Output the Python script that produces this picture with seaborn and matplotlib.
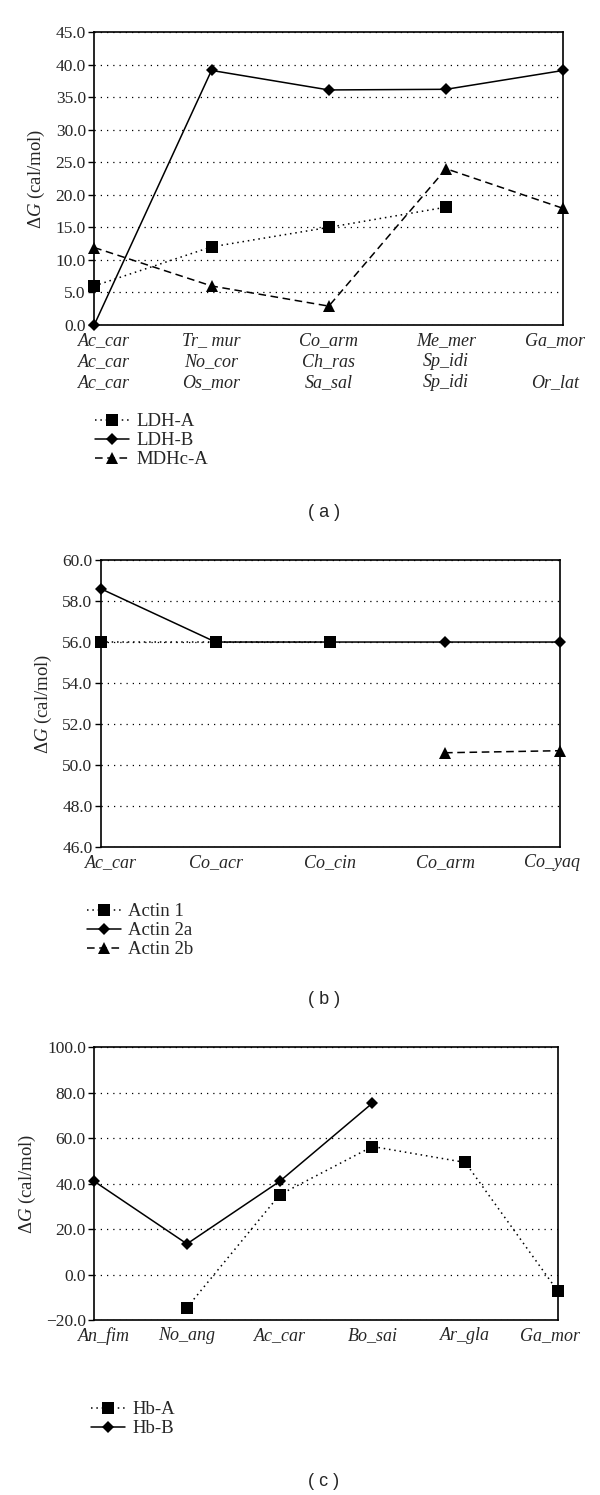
import numpy as np
import pandas as pd
import matplotlib
matplotlib.use('Agg')
import matplotlib.pyplot as plt
import matplotlib.transforms as mtransforms
import seaborn as sns

# Panel (a): LDH-A, LDH-B, MDHc-A
a_sites = ['Ac_car\nAc_car\nAc_car', 'Tr_ mur\nNo_cor\nOs_mor', 'Co_arm\nCh_ras\nSa_sal',
           'Me_mer\nSp_idi\nSp_idi', 'Ga_mor\n\nOr_lat']
ldh_a = [6.0, 12.0, 15.0, 18.1, np.nan]
ldh_b = [0.0, 39.1, 36.1, 36.2, 39.1]
mdhc_a = [11.9, 6.0, 2.9, 24.0, 17.9]

# Panel (b): actins
b_sites = ['Ac_car', 'Co_acr', 'Co_cin', 'Co_arm', 'Co_yaq']
actin_1 = [56.0, 56.0, 56.0, np.nan, np.nan]
actin_2a = [58.6, 56.0, 56.0, 56.0, 56.0]
actin_2b = [np.nan, np.nan, np.nan, 50.6, 50.7]

# Panel (c): hemoglobins
c_sites = ['An_fim', 'No_ang', 'Ac_car', 'Bo_sai', 'Ar_gla', 'Ga_mor']
hb_a = [np.nan, -14.5, 35.1, 56.3, 49.3, -7.4]
hb_b = [41.0, 13.5, 41.0, 75.4, np.nan, np.nan]

sns.set_style('white')
plt.rcParams['font.family'] = ['Liberation Serif', 'DejaVu Serif']
plt.rcParams['mathtext.fontset'] = 'custom'
plt.rcParams['mathtext.it'] = 'Liberation Serif:italic'
plt.rcParams['mathtext.rm'] = 'Liberation Serif'

DOT = (0, (1, 2.5))
DASH = (0, (5, 3))


def fmt_tick(v, pos):
    return f'{v:.1f}'.replace('-', '\u2212')


def draw_panel(ax, sites, series, ylim, step, legend_xy, caption, caption_y, fig):
    x = np.arange(len(sites))
    handles = []
    for name, vals, ls, mk, ms in series:
        df = pd.DataFrame({'x': x, 'y': vals}).dropna()
        sns.lineplot(data=df, x='x', y='y', ax=ax, color='black', linestyle=ls,
                     linewidth=1.1, marker=mk, markersize=ms, markeredgewidth=0,
                     clip_on=False, zorder=3, label=name, legend=False)
        handles.append(ax.lines[-1])
    ax.set_xlim(0, len(sites) - 1)
    ax.set_ylim(*ylim)
    ax.set_yticks(np.arange(ylim[0], ylim[1] + step / 2, step))
    ax.yaxis.set_major_formatter(matplotlib.ticker.FuncFormatter(fmt_tick))
    ax.set_xticks(x)
    ax.set_xticklabels(sites, fontstyle='italic', fontsize=13, linespacing=1.3)
    ax.tick_params(axis='x', length=0, pad=5)
    ax.tick_params(axis='y', length=4, width=1, direction='out', left=True,
                   labelsize=12.5, pad=2, color='black')
    # end labels sit a little inside the plot, as in the original
    labels = ax.get_xticklabels()
    labels[0].set_transform(labels[0].get_transform() +
                            mtransforms.ScaledTranslation(10 / 100, 0, fig.dpi_scale_trans))
    labels[-1].set_transform(labels[-1].get_transform() +
                             mtransforms.ScaledTranslation(-8 / 100, 0, fig.dpi_scale_trans))
    ax.yaxis.grid(True, linestyle=(0, (1, 4)), color='black', linewidth=0.9)
    ax.xaxis.grid(False)
    for sp in ax.spines.values():
        sp.set_color('black')
        sp.set_linewidth(1.2)
    ax.set_xlabel('')
    ax.set_ylabel(r'Δ$G$ (cal/mol)', fontsize=13.5, labelpad=6)
    ax.legend(handles=handles, loc='upper left', bbox_to_anchor=legend_xy,
              bbox_transform=fig.transFigure, frameon=False, fontsize=13.5,
              handlelength=1.8, handletextpad=0.4, labelspacing=0.1, borderpad=0,
              borderaxespad=0)
    fig.text(0.54, 1 - caption_y / 1495, caption, ha='center', va='center',
             fontsize=13, family='Liberation Sans')


fig = plt.figure(figsize=(6.0, 14.95), dpi=100)
ax_a = fig.add_axes([0.157, 0.7826, 0.782, 0.196])
ax_b = fig.add_axes([0.168, 0.4334, 0.765, 0.192])
ax_c = fig.add_axes([0.157, 0.117, 0.773, 0.1826])

draw_panel(ax_a, a_sites,
           [('LDH-A', ldh_a, DOT, 's', 8),
            ('LDH-B', ldh_b, '-', 'D', 6),
            ('MDHc-A', mdhc_a, DASH, '^', 9)],
           (0, 45), 5, (0.158, 1 - 413 / 1495), '( a )', 513, fig)
draw_panel(ax_b, b_sites,
           [('Actin 1', actin_1, DOT, 's', 8),
            ('Actin 2a', actin_2a, '-', 'D', 6),
            ('Actin 2b', actin_2b, DASH, '^', 9)],
           (46, 60), 2, (0.145, 1 - 903 / 1495), '( b )', 1000, fig)
draw_panel(ax_c, c_sites,
           [('Hb-A', hb_a, DOT, 's', 8),
            ('Hb-B', hb_b, '-', 'D', 6)],
           (-20, 100), 20, (0.152, 1 - 1401 / 1495), '( c )', 1482, fig)

fig.savefig('out.png', dpi=100, facecolor='white')
